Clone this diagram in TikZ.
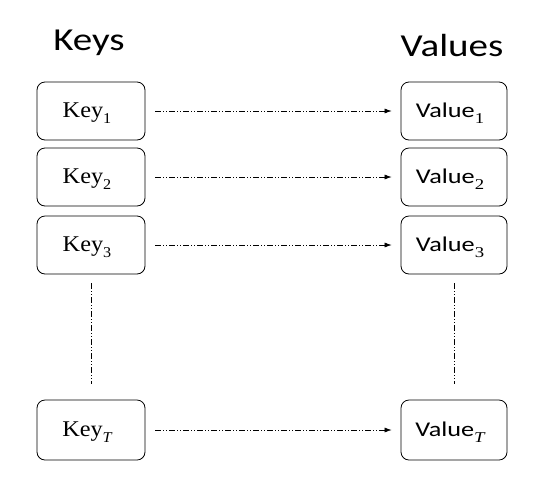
\documentclass[tikz,border=0pt]{standalone}
\usepackage{fontspec}
\setmainfont{Carlito}
\newfontfamily\keyfont{Liberation Serif}
\newcommand{\subtx}[1]{\raisebox{-0.28em}{\fontsize{15}{15}\selectfont\keyfont #1}}
\usetikzlibrary{arrows.meta}
\begin{document}
\begin{tikzpicture}[x=1pt,y=-1pt,
  boxk/.style={draw, line width=0.8pt, rounded corners=8pt, minimum width=108pt, minimum height=58pt, inner sep=0pt},
  boxv/.style={boxk, minimum width=106pt},
  hdr/.style={font=\fontsize{32}{36}\selectfont, inner sep=0pt},
  lbl/.style={font=\fontsize{21}{24}\selectfont, inner sep=0pt},
  klbl/.style={font=\fontsize{22.5}{24}\selectfont, inner sep=0pt},
  link/.style={line width=0.6pt, dash pattern=on 6pt off 2pt on 1pt off 2pt on 1pt off 2pt, -{Latex[length=7pt,width=5pt]}, shorten <=10pt, shorten >=9pt},
  vdots/.style={line width=0.6pt, dash pattern=on 6pt off 2pt on 1pt off 2pt on 1pt off 2pt}
]
\useasboundingbox (0,0) rectangle (540,496);
\node[hdr] (hk) at (89,43) {\scalebox{1.22}[1]{Keys}};
\node[hdr] (hv) at (452,46) {\scalebox{1.22}[1]{Values}};

\node[boxk] (k1) at (91,111) {};
\node[boxk] (k2) at (91,177) {};
\node[boxk] (k3) at (91,245) {};
\node[boxk, minimum height=60pt] (kT) at (91,430) {};
\node[boxv] (v1) at (454,111) {};
\node[boxv] (v2) at (454,177) {};
\node[boxv] (v3) at (454,245) {};
\node[boxv, minimum height=60pt] (vT) at (454,430) {};

\node[klbl] (tk1) at (87,113) {\scalebox{1.08}[1]{\keyfont Key\subtx{1}}};
\node[klbl] (tk2) at (87,179) {\scalebox{1.08}[1]{\keyfont Key\subtx{2}}};
\node[klbl] (tk3) at (87,247) {\scalebox{1.08}[1]{\keyfont Key\subtx{3}}};
\node[klbl] (tkT) at (87,432) {\scalebox{1.08}[1]{\keyfont Key\subtx{\itshape T}}};
\node[lbl] (tv1) at (450,113) {\scalebox{1.25}[1]{Value\subtx{1}}};
\node[lbl] (tv2) at (450,179) {\scalebox{1.25}[1]{Value\subtx{2}}};
\node[lbl] (tv3) at (450,247) {\scalebox{1.25}[1]{Value\subtx{3}}};
\node[lbl] (tvT) at (450,432) {\scalebox{1.25}[1]{Value\subtx{\itshape T}}};

\draw[link] (k1) -- (v1);
\draw[link] (k2) -- (v2);
\draw[link] (k3) -- (v3);
\draw[link] (kT) -- (vT);

\draw[vdots, shorten <=9pt, shorten >=16pt] (k3) -- (kT);
\draw[vdots, shorten <=9pt, shorten >=16pt] (v3) -- (vT);
\end{tikzpicture}
\end{document}
